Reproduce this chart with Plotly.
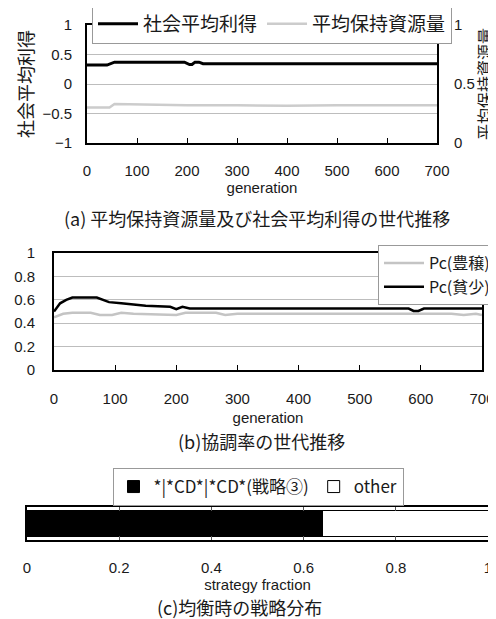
import plotly.graph_objects as go

# The page body has an 8px margin, so the figure is sized to fit the 496x619 window
OFF = 8
W, H = 496 - OFF, 619 - OFF

# ---------------- data ----------------
# (a) social average payoff (left axis) and average resource holding (right axis)
gen_payoff = [0, 40, 55, 195, 205, 210, 216, 224, 232, 700]
payoff = [0.32, 0.32, 0.37, 0.37, 0.33, 0.33, 0.37, 0.37, 0.345, 0.345]

gen_resource = [0, 45, 55, 100, 200, 300, 400, 500, 600, 700]
resource = [0.30, 0.30, 0.33, 0.325, 0.32, 0.32, 0.315, 0.32, 0.32, 0.32]

# (b) cooperation rates
gen_pc_rich = [0, 15, 30, 60, 75, 95, 110, 130, 200, 215, 240, 265, 280, 300, 400, 500, 600, 650, 670, 690, 700]
pc_rich = [0.45, 0.48, 0.49, 0.49, 0.47, 0.47, 0.49, 0.48, 0.47, 0.49, 0.49, 0.49, 0.47, 0.48, 0.48, 0.48, 0.48, 0.48, 0.47, 0.48, 0.47]

gen_pc_poor = [0, 10, 20, 30, 70, 80, 90, 110, 130, 150, 190, 200, 210, 222, 580, 588, 596, 605, 700]
pc_poor = [0.50, 0.57, 0.60, 0.62, 0.62, 0.60, 0.58, 0.57, 0.56, 0.55, 0.54, 0.52, 0.54, 0.525, 0.525, 0.505, 0.505, 0.525, 0.525]

# (c) strategy distribution at equilibrium
strategy_names = ["*|*CD*|*CD*(戦略③)", "other"]
strategy_fraction = [0.64, 0.36]
strategy_colors = ["black", "white"]

# ---------------- helpers (screen px -> paper fraction) ----------------
def px(s):
    return (s - OFF) / W

def py(s):
    return 1 - (s - OFF) / H

def xd(a, b):
    return [px(a), px(b)]

def yd(top, bottom):
    return [py(bottom), py(top)]

FONT = "Liberation Sans, Noto Sans CJK JP, sans-serif"
CJK = "Noto Sans CJK JP, sans-serif"
TXT = "#1a1a1a"
GRID = "#bdbdbd"

fig = go.Figure()

# (a)
fig.add_trace(go.Scatter(x=gen_payoff, y=payoff, name="社会平均利得", mode="lines",
                         line=dict(color="black", width=3), xaxis="x", yaxis="y", legend="legend"))
fig.add_trace(go.Scatter(x=gen_resource, y=resource, name="平均保持資源量", mode="lines",
                         line=dict(color="#cccccc", width=2.5), xaxis="x", yaxis="y2", legend="legend"))
# (b)
fig.add_trace(go.Scatter(x=gen_pc_rich, y=pc_rich, name="Pc(豊穣)", mode="lines",
                         line=dict(color="#c4c4c4", width=2.5), xaxis="x2", yaxis="y3", legend="legend2"))
fig.add_trace(go.Scatter(x=gen_pc_poor, y=pc_poor, name="Pc(貧少)", mode="lines",
                         line=dict(color="black", width=2.5), xaxis="x2", yaxis="y3", legend="legend2"))
# (c)
for name, val, col in zip(strategy_names, strategy_fraction, strategy_colors):
    fig.add_trace(go.Bar(x=[val], y=[""], orientation="h", name=name,
                         marker=dict(color=col, line=dict(color="black", width=1)),
                         xaxis="x3", yaxis="y4", legend="legend3"))

tick_font = dict(family=FONT, size=15, color=TXT)

fig.update_layout(
    width=W, height=H,
    margin=dict(l=0, r=0, t=0, b=0, autoexpand=False),
    paper_bgcolor="white", plot_bgcolor="white",
    font=dict(family=FONT, color=TXT),
    barmode="stack", bargap=0.2,
    showlegend=True,
    # ----- (a) -----
    xaxis=dict(domain=xd(87, 437), anchor="y", range=[0, 700], dtick=100, automargin=False,
               ticks="inside", ticklen=5, tickcolor="black", showgrid=False,
               showline=True, linecolor="black", linewidth=2, mirror=True,
               tickfont=tick_font, ticklabelstandoff=13,
               title=dict(text="generation", font=dict(family=FONT, size=15, color=TXT), standoff=3)),
    yaxis=dict(domain=yd(25, 143), anchor="x", range=[-1, 1], dtick=0.5, automargin=False,
               showgrid=True, gridcolor=GRID, gridwidth=1, zeroline=False,
               showline=True, linecolor="black", linewidth=2,
               tickfont=tick_font, ticklabelstandoff=10,
               title=dict(text="社会平均利得", font=dict(family=CJK, size=18, color=TXT), standoff=4)),
    yaxis2=dict(overlaying="y", side="right", anchor="x", range=[0, 1], automargin=False,
                tickvals=[0, 0.5, 1], ticktext=["0", "0.5", "1"],
                showgrid=False, zeroline=False,
                showline=True, linecolor="black", linewidth=2,
                tickfont=tick_font, ticklabelstandoff=12,
                title=dict(text="平均保持資源量", font=dict(family=CJK, size=16, color=TXT), standoff=0)),
    # ----- (b) -----
    xaxis2=dict(domain=xd(54, 482), anchor="y3", range=[0, 700], dtick=100, automargin=False,
                ticks="inside", ticklen=5, tickcolor="black", showgrid=False,
                showline=True, linecolor="black", linewidth=2, mirror=True,
                tickfont=tick_font, ticklabelstandoff=14, ticklabeloverflow="allow",
                title=dict(text="generation", font=dict(family=FONT, size=15, color=TXT), standoff=6)),
    yaxis3=dict(domain=yd(253, 370), anchor="x2", range=[0, 1], dtick=0.2, automargin=False,
                showgrid=True, gridcolor=GRID, gridwidth=1, zeroline=False,
                showline=True, linecolor="black", linewidth=2, mirror=True,
                tickfont=tick_font, ticklabelstandoff=14),
    # ----- (c) -----
    xaxis3=dict(domain=xd(27, 488), anchor="y4", range=[0, 1], dtick=0.2, automargin=False,
                ticks="inside", ticklen=4, tickcolor="#555", showgrid=True, gridcolor="#666",
                showline=True, linecolor="black", linewidth=2, mirror="allticks",
                tickfont=tick_font, ticklabelstandoff=13, zeroline=False, ticklabeloverflow="allow",
                title=dict(text="strategy fraction", font=dict(family=FONT, size=15, color=TXT), standoff=0)),
    yaxis4=dict(domain=yd(507, 540), anchor="x3", range=[-0.5, 0.5], automargin=False,
                showticklabels=False, showgrid=False, zeroline=False,
                showline=True, linecolor="black", linewidth=2, mirror=True),
    # ----- legends -----
    legend=dict(orientation="h", x=px(92), y=py(4), xanchor="left", yanchor="top",
                bgcolor="white", bordercolor="#999", borderwidth=1, itemwidth=40,
                font=dict(family=CJK, size=19, color=TXT), tracegroupgap=0),
    legend2=dict(orientation="v", x=px(378), y=py(245), xanchor="left", yanchor="top",
                 bgcolor="white", bordercolor="#999", borderwidth=1, itemwidth=40,
                 font=dict(family=CJK, size=16, color=TXT), tracegroupgap=0),
    legend3=dict(orientation="h", x=px(258), y=py(468), xanchor="center", yanchor="top",
                 bgcolor="white", bordercolor="#999", borderwidth=1, traceorder="normal",
                 font=dict(family=CJK, size=17, color=TXT)),
    annotations=[
        dict(text="(a) 平均保持資源量及び社会平均利得の世代推移", x=px(257), y=py(218),
             xref="paper", yref="paper", showarrow=False, xanchor="center", yanchor="middle",
             font=dict(family=CJK, size=18, color=TXT)),
        dict(text="(b)協調率の世代推移", x=px(262), y=py(441),
             xref="paper", yref="paper", showarrow=False, xanchor="center", yanchor="middle",
             font=dict(family=CJK, size=18, color=TXT)),
        dict(text="(c)均衡時の戦略分布", x=px(239), y=py(607),
             xref="paper", yref="paper", showarrow=False, xanchor="center", yanchor="middle",
             font=dict(family=CJK, size=18, color=TXT)),
    ],
)

fig.write_html("out.html")
